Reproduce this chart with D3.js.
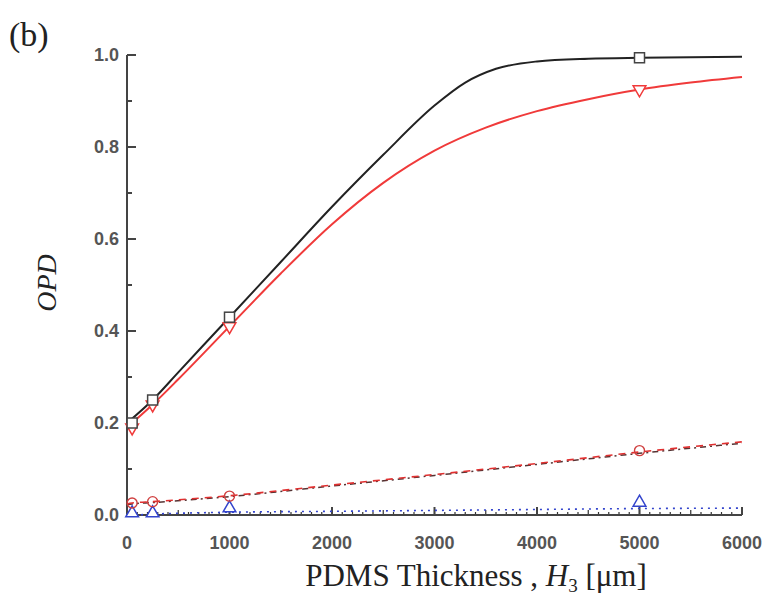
<!DOCTYPE html>
<html>
<head>
<meta charset="utf-8">
<script src="https://cdn.jsdelivr.net/npm/d3@7"></script>
<style>
  body { margin: 0; background: #fff; }
  svg { display: block; }
</style>
</head>
<body>
<svg id="chart" width="767" height="604"></svg>
<script>
// curve samples (H3 in um)
const blackX = [0, 250, 500, 1000, 1500, 2000, 2500, 3000, 3300, 3600, 4000, 4500, 5000, 5500, 6000];
const blackCurve = [0.2, 0.25, 0.31, 0.43, 0.55, 0.67, 0.783, 0.89, 0.94, 0.97, 0.986, 0.992, 0.994, 0.995, 0.996];
const redX = [0, 250, 500, 1000, 1500, 2000, 2500, 3000, 3500, 4000, 4500, 5000, 5500, 6000];
const redCurve = [0.19, 0.24, 0.295, 0.41, 0.525, 0.632, 0.722, 0.792, 0.842, 0.878, 0.904, 0.925, 0.94, 0.952];

// near-linear series
const lineX = [0, 50, 250, 1000, 2000, 3000, 4000, 5000, 6000];
const redDashed = [0.024, 0.026, 0.029, 0.042, 0.065, 0.088, 0.112, 0.137, 0.159];
const darkDashDot = [0.022, 0.024, 0.027, 0.04, 0.063, 0.086, 0.11, 0.134, 0.156];
const blueDotted = [0.0, 0.0, 0.002, 0.006, 0.008, 0.01, 0.012, 0.014, 0.015];

// measured points
const markX = [50, 250, 1000, 5000];
const blackSquares = [0.2, 0.25, 0.43, 0.994];
const redTriangles = [0.19, 0.24, 0.41, 0.925];
const redCircles = [0.026, 0.029, 0.041, 0.14];
const blueTriangles = [0.004, 0.004, 0.015, 0.027];

const xTicks = [0, 1000, 2000, 3000, 4000, 5000, 6000];
const yTicks = [0, 0.2, 0.4, 0.6, 0.8, 1.0];

const svg = d3.select("#chart");

const x = d3.scaleLinear().domain([0, 6000]).range([127, 742]);
const y = d3.scaleLinear().domain([0, 1]).range([515, 55]);

// panel label
svg.append("text")
  .attr("x", 9).attr("y", 46)
  .attr("font-family", "Liberation Serif")
  .attr("font-size", 34)
  .attr("fill", "#222")
  .text("(b)");

const axisColor = "#444";

// x axis: little dash marks every 100, bigger ones at 500 and 1000
const gx = svg.append("g");
gx.selectAll("line.minor")
  .data(d3.range(100, 6000, 100))
  .join("line")
  .attr("x1", d => x(d)).attr("x2", d => x(d))
  .attr("y1", y(0)).attr("y2", d => y(0) - (d % 500 === 0 ? 5 : 3))
  .attr("stroke", "#333").attr("stroke-width", 1.2);

gx.selectAll("line.major")
  .data(xTicks)
  .join("line")
  .attr("x1", d => x(d)).attr("x2", d => x(d))
  .attr("y1", y(0)).attr("y2", y(0) - 8)
  .attr("stroke", axisColor).attr("stroke-width", 2);

gx.append("line")
  .attr("x1", x(0)).attr("x2", x(6000))
  .attr("y1", y(0)).attr("y2", y(0))
  .attr("stroke", axisColor).attr("stroke-width", 2);

gx.selectAll("text")
  .data(xTicks)
  .join("text")
  .attr("x", d => x(d)).attr("y", 549)
  .attr("text-anchor", "middle")
  .attr("font-family", "Liberation Sans")
  .attr("font-weight", "bold")
  .attr("font-size", 18)
  .attr("fill", "#555")
  .text(d => d);

const gy = svg.append("g");
gy.append("line")
  .attr("x1", x(0)).attr("x2", x(0))
  .attr("y1", y(0)).attr("y2", y(1))
  .attr("stroke", axisColor).attr("stroke-width", 2);

gy.selectAll("line.major")
  .data(yTicks)
  .join("line")
  .attr("x1", x(0)).attr("x2", x(0) + 9)
  .attr("y1", d => y(d)).attr("y2", d => y(d))
  .attr("stroke", axisColor).attr("stroke-width", 2);

gy.selectAll("line.minor")
  .data([0.1, 0.3, 0.5, 0.7, 0.9])
  .join("line")
  .attr("x1", x(0)).attr("x2", x(0) + 5)
  .attr("y1", d => y(d)).attr("y2", d => y(d))
  .attr("stroke", axisColor).attr("stroke-width", 2);

gy.selectAll("text")
  .data(yTicks)
  .join("text")
  .attr("x", 119).attr("y", d => y(d) + 6)
  .attr("text-anchor", "end")
  .attr("font-family", "Liberation Sans")
  .attr("font-weight", "bold")
  .attr("font-size", 18)
  .attr("fill", "#555")
  .text(d => d.toFixed(1));

// axis titles
svg.append("text")
  .attr("x", 476).attr("y", 586)
  .attr("text-anchor", "middle")
  .attr("font-family", "Liberation Serif")
  .attr("font-size", 31)
  .attr("fill", "#222")
  .call(t => {
    t.append("tspan").text("PDMS Thickness , ");
    t.append("tspan").attr("font-style", "italic").text("H");
    t.append("tspan").attr("font-size", 19).attr("dy", 6).text("3");
    t.append("tspan").attr("dy", -6).text(" [\u03bcm]");
  });

svg.append("text")
  .attr("transform", "translate(56,283) rotate(-90)")
  .attr("text-anchor", "middle")
  .attr("font-family", "Liberation Serif")
  .attr("font-style", "italic")
  .attr("font-size", 28)
  .attr("fill", "#222")
  .text("OPD");

// lines
const lineOf = xs => d3.line()
  .x((d, i) => x(xs[i]))
  .y(d => y(d))
  .curve(d3.curveMonotoneX);

svg.append("path").attr("d", lineOf(lineX)(blueDotted))
  .attr("fill", "none").attr("stroke", "#3344cc")
  .attr("stroke-width", 1.6).attr("stroke-dasharray", "2,5");

svg.append("path").attr("d", lineOf(lineX)(darkDashDot))
  .attr("fill", "none").attr("stroke", "#553333")
  .attr("stroke-width", 1.5).attr("stroke-dasharray", "6,4,2,4");

svg.append("path").attr("d", lineOf(lineX)(redDashed))
  .attr("fill", "none").attr("stroke", "#e03030")
  .attr("stroke-width", 1.6).attr("stroke-dasharray", "7,6");

svg.append("path").attr("d", lineOf(redX)(redCurve))
  .attr("fill", "none").attr("stroke", "#f03a3a").attr("stroke-width", 2);

svg.append("path").attr("d", lineOf(blackX)(blackCurve))
  .attr("fill", "none").attr("stroke", "#222").attr("stroke-width", 2);

// markers
const tri = d3.symbol().type(d3.symbolTriangle).size(70);

svg.append("g").selectAll("path")
  .data(blueTriangles)
  .join("path")
  .attr("transform", (d, i) => `translate(${x(markX[i])},${y(d)})`)
  .attr("d", tri)
  .attr("fill", "#fff").attr("stroke", "#3344cc").attr("stroke-width", 1.5);

svg.append("g").selectAll("circle")
  .data(redCircles)
  .join("circle")
  .attr("cx", (d, i) => x(markX[i])).attr("cy", d => y(d))
  .attr("r", 5)
  .attr("fill", "none").attr("stroke", "#d04040").attr("stroke-width", 1.4);

svg.append("g").selectAll("path")
  .data(redTriangles)
  .join("path")
  .attr("transform", (d, i) => `translate(${x(markX[i])},${y(d)}) rotate(180)`)
  .attr("d", tri)
  .attr("fill", "#fff").attr("stroke", "#f03a3a").attr("stroke-width", 1.5);

svg.append("g").selectAll("rect")
  .data(blackSquares)
  .join("rect")
  .attr("x", (d, i) => x(markX[i]) - 5).attr("y", d => y(d) - 5)
  .attr("width", 10).attr("height", 10)
  .attr("fill", "#fff").attr("stroke", "#444").attr("stroke-width", 1.5);
</script>
</body>
</html>
